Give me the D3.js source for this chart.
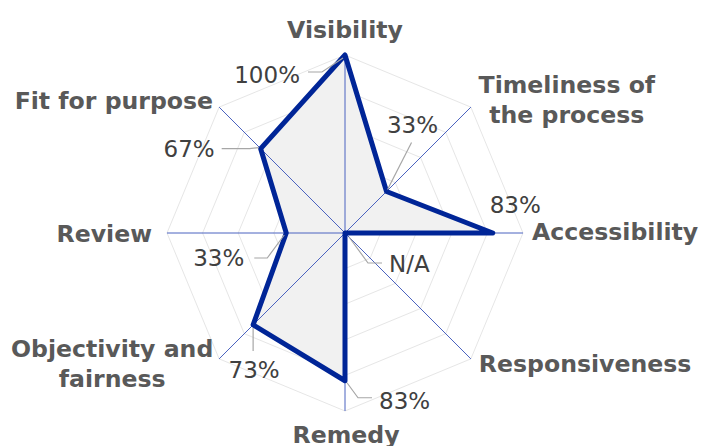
<!DOCTYPE html>
<html>
<head>
<meta charset="utf-8">
<script src="https://cdn.jsdelivr.net/npm/d3@7"></script>
<style>
  html, body { margin: 0; padding: 0; background: #ffffff; }
  svg { display: block; }
</style>
</head>
<body>
<svg id="chart" width="701" height="446"></svg>
<script>
// Assessment criteria, clockwise from the top
const categories = [
  "Visibility",
  "Timeliness of the process",
  "Accessibility",
  "Responsiveness",
  "Remedy",
  "Objectivity and fairness",
  "Review",
  "Fit for purpose"
];
// Share of criteria met; null = not applicable
const values = [1.00, 0.33, 0.83, null, 0.83, 0.73, 0.33, 0.67];
const valueLabels = ["100%", "33%", "83%", "N/A", "83%", "73%", "33%", "67%"];
const gridTicks = [0.2, 0.4, 0.6, 0.8, 1.0];

// Layout
const cx = 345, cy = 233, R = 178;
const catFont = "bold 23.6px 'DejaVu Sans', Verdana, sans-serif";
const valFont = "23px 'DejaVu Sans', Verdana, sans-serif";

// Category label placement relative to each axis end: [dx, dy of first baseline, anchor]
const catPlace = [
  [0, -17, "middle"],
  [96, -14, "middle"],
  [9, 7, "start"],
  [8, 13, "start"],
  [1, 32, "middle"],
  [-107, -2, "middle"],
  [-15, 9, "end"],
  [-6, 2, "end"]
];
// Category label line breaks
const catLines = [
  ["Visibility"],
  ["Timeliness of", "the process"],
  ["Accessibility"],
  ["Responsiveness"],
  ["Remedy"],
  ["Objectivity and", "fairness"],
  ["Review"],
  ["Fit for purpose"]
];
// Value label placement relative to the data point: text [dx, dy, anchor], leader bends
const valPlace = [
  { t: [-45, 28, "end"],   lead: [[-2, 3], [-23, 17], [-37, 17]] },
  { t: [26, -58, "middle"], lead: [[1, -2], [25, -49]] },
  { t: [-3, -20, "start"], lead: [] },
  { t: [44, 39, "start"],  lead: [[4, 4], [23, 30], [37, 30]] },
  { t: [34, 28, "start"],  lead: [[2, 2], [13, 17], [27, 17]] },
  { t: [1, 53, "middle"],  lead: [[0, 3], [0, 26]] },
  { t: [-42, 33, "end"],   lead: [[-2, 2], [-19, 25], [-32, 25]] },
  { t: [-46, 8, "end"],    lead: [[-2, -1], [-11, 0], [-39, 0]] }
];

const svg = d3.select("#chart");
const r = d3.scaleLinear().domain([0, 1]).range([0, R]);
const n = categories.length;
const angle = d3.scaleLinear().domain([0, n]).range([0, 2 * Math.PI]);
const px = (i, v) => cx + r(v) * Math.sin(angle(i));
const py = (i, v) => cy - r(v) * Math.cos(angle(i));

const g = svg.append("g");

// Octagonal grid rings
const ringLine = d3.line().x(d => d[0]).y(d => d[1]);
g.selectAll("path.ring")
  .data(gridTicks)
  .join("path")
  .attr("class", "ring")
  .attr("d", t => ringLine(d3.range(n).map(i => [px(i, t), py(i, t)])) + "Z")
  .attr("fill", "none")
  .attr("stroke", "#e6e6e6")
  .attr("stroke-width", 1);

// Series area
const series = values.map((v, i) => [px(i, v == null ? 0 : v), py(i, v == null ? 0 : v)]);
g.append("path")
  .attr("d", ringLine(series) + "Z")
  .attr("fill", "#f1f1f1")
  .attr("stroke", "none");

// Spokes
g.selectAll("line.spoke")
  .data(d3.range(n))
  .join("line")
  .attr("class", "spoke")
  .attr("x1", cx).attr("y1", cy)
  .attr("x2", i => px(i, 1)).attr("y2", i => py(i, 1))
  .attr("stroke", "#4b63c0")
  .attr("stroke-width", 1);

// Series outline
g.append("path")
  .attr("d", ringLine(series) + "Z")
  .attr("fill", "none")
  .attr("stroke", "#002597")
  .attr("stroke-width", 5)
  .attr("stroke-linejoin", "round");

// Value leaders and labels
values.forEach((v, i) => {
  const x0 = series[i][0], y0 = series[i][1];
  const p = valPlace[i];
  if (p.lead.length) {
    g.append("path")
      .attr("d", ringLine(p.lead.map(d => [x0 + d[0], y0 + d[1]])))
      .attr("fill", "none")
      .attr("stroke", "#a6a6a6")
      .attr("stroke-width", 1.2);
  }
  g.append("text")
    .attr("x", x0 + p.t[0])
    .attr("y", y0 + p.t[1])
    .attr("text-anchor", p.t[2])
    .style("font", valFont)
    .attr("fill", "#404040")
    .text(valueLabels[i]);
});

// Category labels
categories.forEach((c, i) => {
  const ex = px(i, 1), ey = py(i, 1);
  const p = catPlace[i];
  const t = g.append("text")
    .attr("text-anchor", p[2])
    .style("font", catFont)
    .attr("fill", "#595959");
  catLines[i].forEach((line, k) => {
    t.append("tspan")
      .attr("x", ex + p[0])
      .attr("y", ey + p[1] + k * 30)
      .text(line);
  });
});
</script>
</body>
</html>
